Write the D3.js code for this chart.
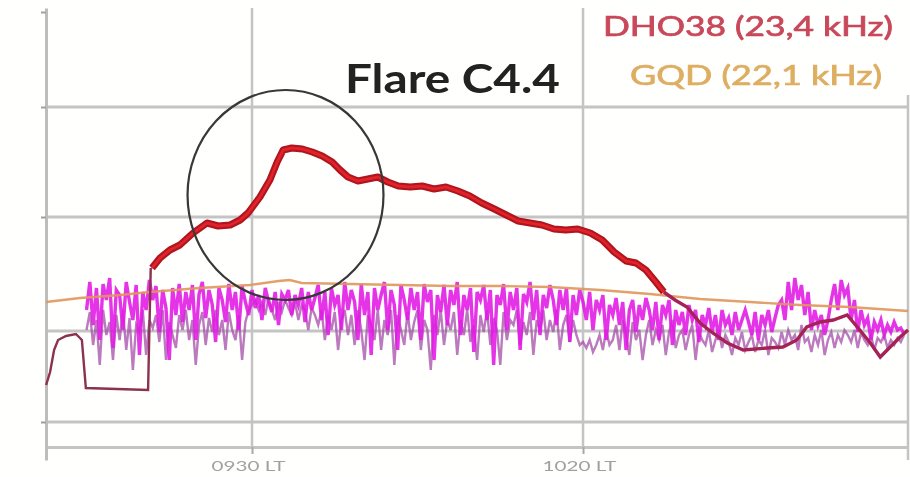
<!DOCTYPE html>
<html><head><meta charset="utf-8">
<script src="https://cdn.jsdelivr.net/npm/d3@7"></script>
<style>html,body{margin:0;padding:0;background:#fff;} svg{display:block}</style>
</head><body><svg id="c" width="910" height="477"></svg>
<script>
// ---- data (time in minutes after 09:00 LT, amplitude in arbitrary units) ----
const xTickValues = [30, 80];
const xTickLabels = ["0930 LT", "1020 LT"];
const hGridValues = [353, 243, 129, 38];
const yTickValues = [448, 353, 243, 38];
const legendLabels = ["DHO38 (23,4 kHz)", "GQD (22,1 kHz)"];
const flareLabel = "Flare C4.4";

// DHO38, early low segment
const dhoEarlyT = [-1.1,-0.5,0.1,0.7,1.9,3.4,4.3,4.9,14.3,14.7];
const dhoEarlyV = [75,88,110,120,124,126,120,72,70,192];
// DHO38, main (flare) segment
const dhoT = [14.9,16.1,17.6,19.1,21.1,23.2,24.9,26.7,28.2,29.4,31.2,32.7,33.8,34.7,36.0,37.6,39.1,40.6,42.1,43.3,44.5,46.0,47.5,49.0,50.5,52.1,53.9,55.7,57.5,59.3,61.1,62.9,64.7,66.6,68.4,70.2,72.0,73.8,75.6,77.4,79.2,81.1,82.9,84.7,86.5,88.0,89.5,91.0,92.2];
const dhoV = [192,202,210,215,227,237,234,235,240,247,263,280,298,310,312,311,308,304,298,290,283,279,281,283,278,274,273,274,271,273,269,264,257,251,245,239,237,235,231,230,231,227,220,208,199,197,190,178,168];
// DHO38, tail segment
const dhoTailT = [92.2,93.9,95.7,97.7,99.6,101.8,104.2,107.8,110.2,112.3,113.8,115.8,117.8,119.9,121.8,123.4,124.9,126.4,127.9,129.1];
const dhoTailV = [168,160,153,137,127,117,110,112,113,120,133,138,140,145,130,117,103,113,123,130];
// GQD
const gqdT = [-1.1,4.0,10.1,14.6,22.1,29.7,34.0,35.7,37.5,44.8,52.4,59.9,67.5,75.0,82.6,90.1,97.7,105.2,112.8,120.3,129.1];
const gqdV = [158,162,165,168,172,175,179,180,177,176,175,174,174,173,170,166,161,158,155,153,149];

// noisy signals, sampled every 0.5 min from t = 5
const noiseStart = 5, noiseStep = 0.5;
const magentaV = [
150,178,135,172,120,176,160,182,112,170,
165,130,178,158,140,175,105,168,150,180,
160,174,128,170,152,100,172,145,176,138,
168,150,175,120,166,178,142,170,155,118,
172,160,138,176,150,168,130,174,158,145,
170,152,165,140,172,158,148,168,135,166,
160,170,145,165,155,172,138,168,150,162,
175,140,168,125,172,155,165,130,178,150,
170,158,120,176,145,168,105,172,150,165,
178,130,170,155,110,175,160,140,172,150,
168,120,176,158,170,100,165,148,175,135,
170,155,178,125,165,150,172,108,168,160,
175,140,170,95,165,155,176,130,168,150,
172,110,166,158,178,140,170,125,165,152,
175,160,135,170,150,172,118,165,145,170,
158,140,168,130,160,150,165,120,155,145,
162,135,158,110,150,160,128,155,140,162,
150,130,158,120,155,145,160,115,150,135,
148,125,155,140,150,118,145,135,152,128,
145,120,150,135,142,125,148,130,140,150,
138,125,148,120,145,135,150,128,142,155,
160,140,178,150,182,160,175,145,168,130,
150,135,145,125,140,160,176,150,180,165,
172,140,160,128,150,135,142,120,138,130,
140,125,135,128,138,130,132,126];
const purpleV = [
130,148,115,140,95,150,125,138,100,145,
120,150,110,142,90,135,128,150,105,140,
132,145,118,150,100,138,125,112,145,130,
150,120,140,95,135,148,115,142,128,150,
125,140,110,148,130,120,145,100,138,150,
155,160,150,158,145,162,150,140,158,148,
160,152,145,158,140,155,150,130,152,145,
135,150,120,145,130,148,110,140,150,125,
145,115,150,130,100,145,135,120,150,110,
140,125,150,95,145,130,115,148,120,138,
150,110,140,130,90,145,125,150,115,140,
130,148,105,140,125,150,118,135,100,145,
128,150,115,142,130,95,148,120,140,135,
150,115,138,125,148,105,140,130,150,120,
140,128,150,110,135,145,118,140,125,115,
118,112,120,108,115,125,110,130,115,120,
135,110,140,125,105,138,120,130,100,125,
140,115,130,120,135,105,128,140,112,125,
130,110,125,135,100,128,120,115,130,108,
120,130,112,125,118,105,122,115,128,110,
118,125,108,120,115,130,105,122,118,112,
128,115,130,120,125,110,135,118,122,108,
125,115,130,105,120,128,112,125,118,130,
125,118,130,112,128,120,115,125,110,122,
118,125,112,120,115,122,118,125];

// flare annotation (centre time, centre amplitude, half-width in min, half-height in units)
const flareRing = {t: 35.06, v: 265, rt: 14.8, rv: 105};

// ---- drawing ----
const svg = d3.select("#c");
const x = d3.scaleLinear().domain([-1.12, 129.09]).range([46, 908]);
const y = d3.scaleLinear().domain([0, 452]).range([460, 8]);
const gridCol = "#c4c4c4";

svg.append("rect").attr("width",910).attr("height",477).attr("fill","#fffffe");

const defs = svg.append("defs");
defs.append("filter").attr("id","soft").append("feGaussianBlur").attr("stdDeviation",0.6);

const plot = svg.append("g").attr("filter","url(#soft)");

// horizontal grid
plot.append("g").selectAll("line").data(hGridValues).join("line")
  .attr("x1", x.range()[0]).attr("x2", x.range()[1])
  .attr("y1", d=>y(d)).attr("y2", d=>y(d))
  .attr("stroke", gridCol).attr("stroke-width", 3);
// vertical grid
plot.append("g").selectAll("line").data(xTickValues).join("line")
  .attr("x1", d=>x(d)).attr("x2", d=>x(d))
  .attr("y1", y(452)).attr("y2", y(13))
  .attr("stroke", gridCol).attr("stroke-width", 2.5);
// right border
plot.append("line").attr("x1",908).attr("x2",908).attr("y1",y(365)).attr("y2",y(0))
  .attr("stroke", gridCol).attr("stroke-width", 2.5);

// x axis
const xAxis = plot.append("g").attr("transform",`translate(0,${y(13)})`)
  .call(d3.axisBottom(x).tickValues(xTickValues).tickFormat((d,i)=>xTickLabels[i]).tickSize(7).tickSizeOuter(0).tickPadding(7));
xAxis.select(".domain").attr("stroke", gridCol).attr("stroke-width", 3);
xAxis.selectAll(".tick line").attr("stroke","#a8a8a8").attr("stroke-width",2);
xAxis.selectAll(".tick text").attr("fill","#a0a0a0").attr("font-family","Lato, sans-serif")
  .attr("font-size",14).attr("dx",-4).attr("textLength",74).attr("lengthAdjust","spacingAndGlyphs");

// y axis
const yAxis = plot.append("g").attr("transform",`translate(${x.range()[0]},0)`)
  .call(d3.axisLeft(y).tickValues(yTickValues).tickFormat("").tickSize(5).tickSizeOuter(0));
yAxis.select(".domain").attr("stroke", "#bdbdbd").attr("stroke-width", 3);
yAxis.selectAll(".tick line").attr("stroke","#a0a0a0").attr("stroke-width",2);

const lineTV = d3.line().x(d=>x(d[0])).y(d=>y(d[1]));
const zipTV = (T,V)=>T.map((t,i)=>[t,V[i]]);
const noisePts = V=>V.map((v,i)=>[noiseStart+i*noiseStep, v]);

// purple noisy
plot.append("path").datum(noisePts(purpleV)).attr("d",lineTV)
  .attr("fill","none").attr("stroke","#a44ca8").attr("stroke-width",2.4).attr("stroke-opacity",0.75);
// magenta noisy
plot.append("path").datum(noisePts(magentaV)).attr("d",lineTV)
  .attr("fill","none").attr("stroke","#e21ce6").attr("stroke-width",3.4).attr("stroke-opacity",0.9);
// GQD
plot.append("path").datum(zipTV(gqdT,gqdV)).attr("d",lineTV)
  .attr("fill","none").attr("stroke","#e0965c").attr("stroke-width",2.4).attr("stroke-opacity",0.9);
// DHO38 early
plot.append("path").datum(zipTV(dhoEarlyT,dhoEarlyV)).attr("d",lineTV)
  .attr("fill","none").attr("stroke","#8a3050").attr("stroke-width",2.4);
// DHO38 tail
plot.append("path").datum(zipTV(dhoTailT,dhoTailV)).attr("d",lineTV)
  .attr("fill","none").attr("stroke","#a42456").attr("stroke-width",3.4);
// DHO38 main
const dho = zipTV(dhoT,dhoV);
plot.append("path").datum(dho).attr("d",lineTV)
  .attr("fill","none").attr("stroke","#ad141e").attr("stroke-width",7).attr("stroke-linejoin","round");
plot.append("path").datum(dho).attr("d",lineTV)
  .attr("fill","none").attr("stroke","#e0202a").attr("stroke-width",3).attr("stroke-linejoin","round");

// flare ring
plot.append("ellipse")
  .attr("cx", x(flareRing.t)).attr("cy", y(flareRing.v))
  .attr("rx", x(flareRing.t+flareRing.rt)-x(flareRing.t))
  .attr("ry", y(flareRing.v-flareRing.rv)-y(flareRing.v))
  .attr("fill","none").attr("stroke","#383838").attr("stroke-width",2.2);

// texts
plot.append("text").attr("x",345).attr("y",93).text(flareLabel)
  .attr("font-family","Lato, sans-serif").attr("font-weight","bold").attr("font-size",41).attr("fill","#202020")
  .attr("textLength",215).attr("lengthAdjust","spacingAndGlyphs");
plot.append("text").attr("x",603).attr("y",36).text(legendLabels[0])
  .attr("font-family","Lato, sans-serif").attr("font-size",26).attr("fill","#c8485a")
  .attr("stroke","#c8485a").attr("stroke-width",0.7)
  .attr("textLength",290).attr("lengthAdjust","spacingAndGlyphs");
plot.append("text").attr("x",630).attr("y",85).text(legendLabels[1])
  .attr("font-family","Lato, sans-serif").attr("font-size",26).attr("fill","#deae62")
  .attr("stroke","#deae62").attr("stroke-width",0.7)
  .attr("textLength",252).attr("lengthAdjust","spacingAndGlyphs");
</script></body></html>
